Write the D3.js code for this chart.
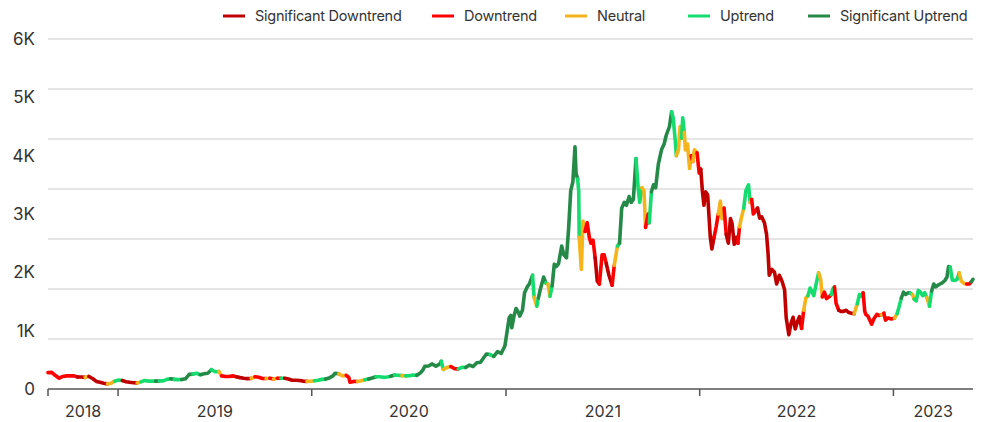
<!DOCTYPE html>
<html>
<head>
<meta charset="utf-8">
<script src="https://cdn.jsdelivr.net/npm/d3@7"></script>
<style>
  html, body { margin: 0; padding: 0; background: #fff; }
  svg { display: block; font-family: Inter, "Liberation Sans", Arial, sans-serif; }
</style>
</head>
<body>
<svg id="chart" width="987" height="422"></svg>
<script>
// ---- Data ----
const trendNames = ["Significant Downtrend", "Downtrend", "Neutral", "Uptrend", "Significant Uptrend"];
const trendColors = ["#c00000", "#ff0000", "#f5b41b", "#14dc6e", "#258a48"];
const yTickValues = [0, 1000, 2000, 3000, 4000, 5000, 6000];
const yTickLabels = ["0", "1K", "2K", "3K", "4K", "5K", "6K"];
const yearLabels = ["2018", "2019", "2020", "2021", "2022", "2023"];

const dates = [
"2018-08-22","2018-08-29","2018-09-05","2018-09-12","2018-09-19","2018-09-26","2018-10-03","2018-10-10","2018-10-17","2018-10-24","2018-10-31","2018-11-07","2018-11-14","2018-11-21","2018-11-28","2018-12-05","2018-12-12","2018-12-19","2018-12-26",
"2019-01-02","2019-01-09","2019-01-16","2019-01-23","2019-01-30","2019-02-06","2019-02-13","2019-02-20","2019-02-27","2019-03-06","2019-03-13","2019-03-20","2019-03-27","2019-04-03","2019-04-10","2019-04-17","2019-04-24","2019-05-01","2019-05-08","2019-05-15","2019-05-22","2019-05-29","2019-06-05","2019-06-12","2019-06-19","2019-06-26","2019-07-03","2019-07-10","2019-07-15","2019-07-22","2019-07-29","2019-08-05","2019-08-12","2019-08-19","2019-08-26","2019-09-02","2019-09-09","2019-09-16","2019-09-23","2019-09-30","2019-10-07","2019-10-14","2019-10-21","2019-10-28","2019-11-04","2019-11-11","2019-11-18","2019-11-25","2019-12-02","2019-12-09","2019-12-16","2019-12-23","2019-12-30",
"2020-01-06","2020-01-13","2020-01-20","2020-01-27","2020-02-03","2020-02-10","2020-02-14","2020-02-21","2020-02-28","2020-03-06","2020-03-11","2020-03-13","2020-03-20","2020-03-27","2020-04-03","2020-04-10","2020-04-17","2020-04-24","2020-05-01","2020-05-08","2020-05-15","2020-05-22","2020-05-29","2020-06-05","2020-06-12","2020-06-19","2020-06-26","2020-07-03","2020-07-10","2020-07-17","2020-07-24","2020-07-28","2020-08-01","2020-08-08","2020-08-15","2020-08-22","2020-08-29","2020-09-01","2020-09-05","2020-09-12","2020-09-19","2020-09-26","2020-10-03","2020-10-10","2020-10-17","2020-10-24","2020-10-31","2020-11-07","2020-11-14","2020-11-21","2020-11-25","2020-12-02","2020-12-09","2020-12-16","2020-12-23","2020-12-30",
"2021-01-03","2021-01-07","2021-01-10","2021-01-12","2021-01-16","2021-01-20","2021-01-24","2021-01-27","2021-02-01","2021-02-05","2021-02-10","2021-02-14","2021-02-20","2021-02-23","2021-02-28","2021-03-03","2021-03-07","2021-03-13","2021-03-17","2021-03-21","2021-03-25","2021-03-29","2021-04-02","2021-04-06","2021-04-10","2021-04-16","2021-04-20","2021-04-25","2021-04-29","2021-05-03","2021-05-07","2021-05-11","2021-05-13","2021-05-16","2021-05-18","2021-05-19","2021-05-23","2021-05-26","2021-05-30","2021-06-03","2021-06-07","2021-06-10","2021-06-14","2021-06-18","2021-06-22","2021-06-26","2021-07-01","2021-07-05","2021-07-09","2021-07-14","2021-07-20","2021-07-24","2021-07-30","2021-08-03","2021-08-07","2021-08-12","2021-08-16","2021-08-21","2021-08-25","2021-08-29","2021-09-03","2021-09-07","2021-09-10","2021-09-14","2021-09-18","2021-09-21","2021-09-26","2021-09-28","2021-10-02","2021-10-06","2021-10-10","2021-10-15","2021-10-21","2021-10-26","2021-10-30","2021-11-05","2021-11-09","2021-11-12","2021-11-16","2021-11-18","2021-11-22","2021-11-25","2021-11-28","2021-11-30","2021-12-03","2021-12-05","2021-12-09","2021-12-13","2021-12-16","2021-12-19","2021-12-22","2021-12-27","2021-12-31",
"2022-01-03","2022-01-06","2022-01-09","2022-01-12","2022-01-16","2022-01-21","2022-01-24","2022-01-28","2022-02-01","2022-02-05","2022-02-09","2022-02-12","2022-02-16","2022-02-20","2022-02-24","2022-02-28","2022-03-03","2022-03-07","2022-03-11","2022-03-14","2022-03-17","2022-03-21","2022-03-25","2022-03-29","2022-04-03","2022-04-06","2022-04-09","2022-04-12","2022-04-16","2022-04-20","2022-04-24","2022-04-28","2022-05-03","2022-05-07","2022-05-10","2022-05-12","2022-05-17","2022-05-22","2022-05-26","2022-05-31","2022-06-05","2022-06-10","2022-06-13","2022-06-18","2022-06-22","2022-06-26","2022-06-30","2022-07-04","2022-07-08","2022-07-12","2022-07-16","2022-07-20","2022-07-24","2022-07-28","2022-07-31","2022-08-04","2022-08-08","2022-08-13","2022-08-17","2022-08-20","2022-08-24","2022-08-28","2022-09-02","2022-09-06","2022-09-09","2022-09-12","2022-09-15","2022-09-20","2022-09-24","2022-09-29","2022-10-04","2022-10-09","2022-10-14","2022-10-19","2022-10-25","2022-10-29","2022-11-01","2022-11-05","2022-11-08","2022-11-10","2022-11-14","2022-11-21","2022-11-25","2022-12-01","2022-12-05","2022-12-09","2022-12-14","2022-12-17","2022-12-22","2022-12-28",
"2023-01-03","2023-01-08","2023-01-12","2023-01-16","2023-01-20","2023-01-24","2023-01-29","2023-02-02","2023-02-06","2023-02-09","2023-02-13","2023-02-17","2023-02-21","2023-02-25","2023-03-01","2023-03-05","2023-03-10","2023-03-14","2023-03-18","2023-03-22","2023-03-26","2023-03-30","2023-04-03","2023-04-08","2023-04-12","2023-04-15","2023-04-18","2023-04-22","2023-04-26","2023-05-01","2023-05-05","2023-05-09","2023-05-14","2023-05-19","2023-05-24","2023-05-28","2023-05-31"
];
const prices = [
280,285,230,185,215,225,225,225,205,205,200,215,180,130,115,100,88,100,135,
155,145,125,115,108,105,122,145,135,135,135,138,140,165,175,165,160,162,175,250,255,270,245,260,270,330,295,300,225,215,215,225,210,195,185,178,180,210,200,180,180,185,170,185,185,185,170,150,150,145,135,130,132,
140,150,165,170,190,225,270,260,225,235,195,115,130,128,140,160,170,190,210,210,200,205,220,240,235,230,225,228,240,235,280,320,390,395,430,390,430,475,335,370,385,350,345,370,370,410,385,450,460,550,600,590,560,640,610,740,
980,1220,1260,1050,1250,1380,1320,1250,1350,1650,1750,1800,1950,1570,1420,1560,1720,1920,1820,1800,1590,1770,2140,2100,2150,2450,2300,2250,2750,3400,3550,4150,3700,3600,3400,2600,2050,2880,2700,2850,2600,2500,2550,2250,1850,1800,2300,2300,2150,1950,1780,2120,2450,2500,3100,3200,3150,3300,3200,3250,3950,3450,3200,3450,3400,2770,3000,2850,3380,3500,3450,3850,4100,4200,4350,4500,4750,4650,4250,4000,4100,4500,4300,4650,4400,4100,4200,3780,4000,3900,4100,4050,3700,
3770,3400,3150,3380,3330,2600,2400,2600,2780,3000,3220,2920,3100,2650,2500,2920,2840,2480,2600,2500,2780,2950,3100,3400,3500,3200,3250,3000,3050,3100,2930,2950,2850,2650,2300,1950,2050,2000,1800,1950,1850,1700,1220,930,1120,1230,1030,1150,1240,1040,1350,1560,1600,1730,1680,1600,1780,1990,1880,1580,1660,1550,1580,1620,1720,1750,1470,1350,1330,1330,1350,1310,1300,1290,1460,1620,1590,1650,1330,1280,1250,1110,1200,1280,1260,1270,1300,1180,1220,1200,
1215,1290,1420,1560,1660,1620,1650,1640,1620,1540,1510,1690,1660,1600,1650,1570,1420,1680,1800,1750,1780,1800,1820,1860,1920,2100,2090,1870,1860,1880,1990,1850,1810,1800,1800,1840,1880
];
const trends = [
1,1,1,1,1,1,1,1,1,0,0,2,0,0,0,0,0,2,2,
3,3,0,0,0,0,2,3,3,3,3,4,3,3,3,4,3,3,4,4,4,3,3,4,4,4,3,3,2,1,1,1,1,0,0,0,0,2,1,1,1,2,1,2,1,3,0,0,0,0,0,0,2,
2,3,3,3,4,4,4,4,2,2,1,1,1,1,2,2,3,4,4,3,3,3,3,4,3,3,2,3,3,3,4,4,4,4,4,4,4,4,3,2,2,1,1,3,3,4,4,4,4,4,4,4,3,4,4,4,
4,4,4,4,4,4,4,4,4,4,4,4,4,3,2,3,4,4,4,3,2,3,4,4,4,4,4,4,4,4,4,4,4,4,3,3,2,2,2,1,1,1,1,1,0,0,1,1,1,0,0,1,2,3,4,4,4,4,4,4,4,3,3,3,2,2,1,1,3,4,4,4,4,4,4,4,4,3,3,3,2,2,2,3,3,2,2,2,2,1,2,2,1,
1,0,0,0,0,0,0,0,1,1,2,2,2,1,0,0,0,0,0,0,1,2,2,3,3,3,2,1,1,1,0,0,0,0,0,0,0,0,0,0,0,0,0,0,0,0,0,0,0,0,1,2,2,3,3,3,3,3,2,2,1,1,1,1,3,3,1,1,0,0,0,0,0,0,2,3,3,3,1,1,1,1,1,1,1,1,2,1,1,1,
1,2,3,3,4,4,4,4,3,2,3,3,3,3,3,3,2,3,4,4,4,4,4,4,4,4,4,3,3,3,3,2,2,2,1,1,4
];

// ---- Layout ----
const svg = d3.select("#chart");
const margin = { left: 48, right: 973, top: 39, bottom: 389 };
const parse = d3.timeParse("%Y-%m-%d");
const pts = dates.map((d, i) => ({ date: parse(d), value: prices[i], trend: trends[i] }));

const x = d3.scaleTime()
  .domain([parse("2018-08-22"), parse("2023-05-31")])
  .range([margin.left, margin.right]);
const y = d3.scaleLinear().domain([0, 6000]).range([margin.bottom, margin.top]);

// gridlines (7 equal bands as in the original)
const gridVals = d3.range(1, 8).map(i => 6000 * i / 7);
svg.append("g").selectAll("line").data(gridVals).join("line")
  .attr("x1", margin.left).attr("x2", margin.right)
  .attr("y1", d => y(d)).attr("y2", d => y(d))
  .attr("stroke", "#dcdcdc").attr("stroke-width", 1.5);

// y labels
svg.append("g").selectAll("text").data(yTickValues).join("text")
  .attr("x", 35).attr("y", d => y(d))
  .attr("dy", "0.36em")
  .attr("text-anchor", "end")
  .attr("font-size", 17)
  .attr("fill", "#333")
  .text((d, i) => yTickLabels[i]);

// x axis
const years = x.ticks(d3.timeYear.every(1));
const axisG = svg.append("g");
axisG.append("line")
  .attr("x1", margin.left).attr("x2", margin.right)
  .attr("y1", margin.bottom).attr("y2", margin.bottom)
  .attr("stroke", "#555").attr("stroke-width", 1.5);
const tickXs = [x.domain()[0], ...years];
axisG.selectAll("line.tick").data(tickXs).join("line")
  .attr("class", "tick")
  .attr("x1", d => x(d)).attr("x2", d => x(d))
  .attr("y1", margin.bottom).attr("y2", margin.bottom + 7)
  .attr("stroke", "#555").attr("stroke-width", 1.5);
const bounds = [x.domain()[0], ...years, x.domain()[1]];
axisG.selectAll("text").data(yearLabels).join("text")
  .attr("x", (d, i) => (x(bounds[i]) + x(bounds[i + 1])) / 2)
  .attr("y", 417)
  .attr("text-anchor", "middle")
  .attr("font-size", 16)
  .attr("fill", "#333")
  .text(d => d);

// line, coloured by trend
const line = d3.line().x(d => x(d.date)).y(d => y(d.value)).curve(d3.curveLinear);
const runs = [];
for (let i = 1; i < pts.length; i++) {
  const t = pts[i].trend;
  const last = runs[runs.length - 1];
  if (last && last.trend === t) last.pts.push(pts[i]);
  else runs.push({ trend: t, pts: [pts[i - 1], pts[i]] });
}
svg.append("g").selectAll("path").data(runs).join("path")
  .attr("d", d => line(d.pts))
  .attr("fill", "none")
  .attr("stroke", d => trendColors[d.trend])
  .attr("stroke-width", 3.6)
  .attr("stroke-linejoin", "round")
  .attr("stroke-linecap", "round");

// legend
const legendX = [223, 432, 565, 688, 808];
const lg = svg.append("g").selectAll("g").data(trendNames).join("g")
  .attr("transform", (d, i) => `translate(${legendX[i]},16)`);
lg.append("line").attr("x1", 0).attr("x2", 22).attr("y1", 0).attr("y2", 0)
  .attr("stroke", (d, i) => trendColors[i]).attr("stroke-width", 3);
lg.append("text").attr("x", 32).attr("y", 0).attr("dy", "0.35em")
  .attr("font-size", 14.5).attr("letter-spacing", "-0.25px")
  .attr("fill", "#333").text(d => d);
</script>
</body>
</html>
